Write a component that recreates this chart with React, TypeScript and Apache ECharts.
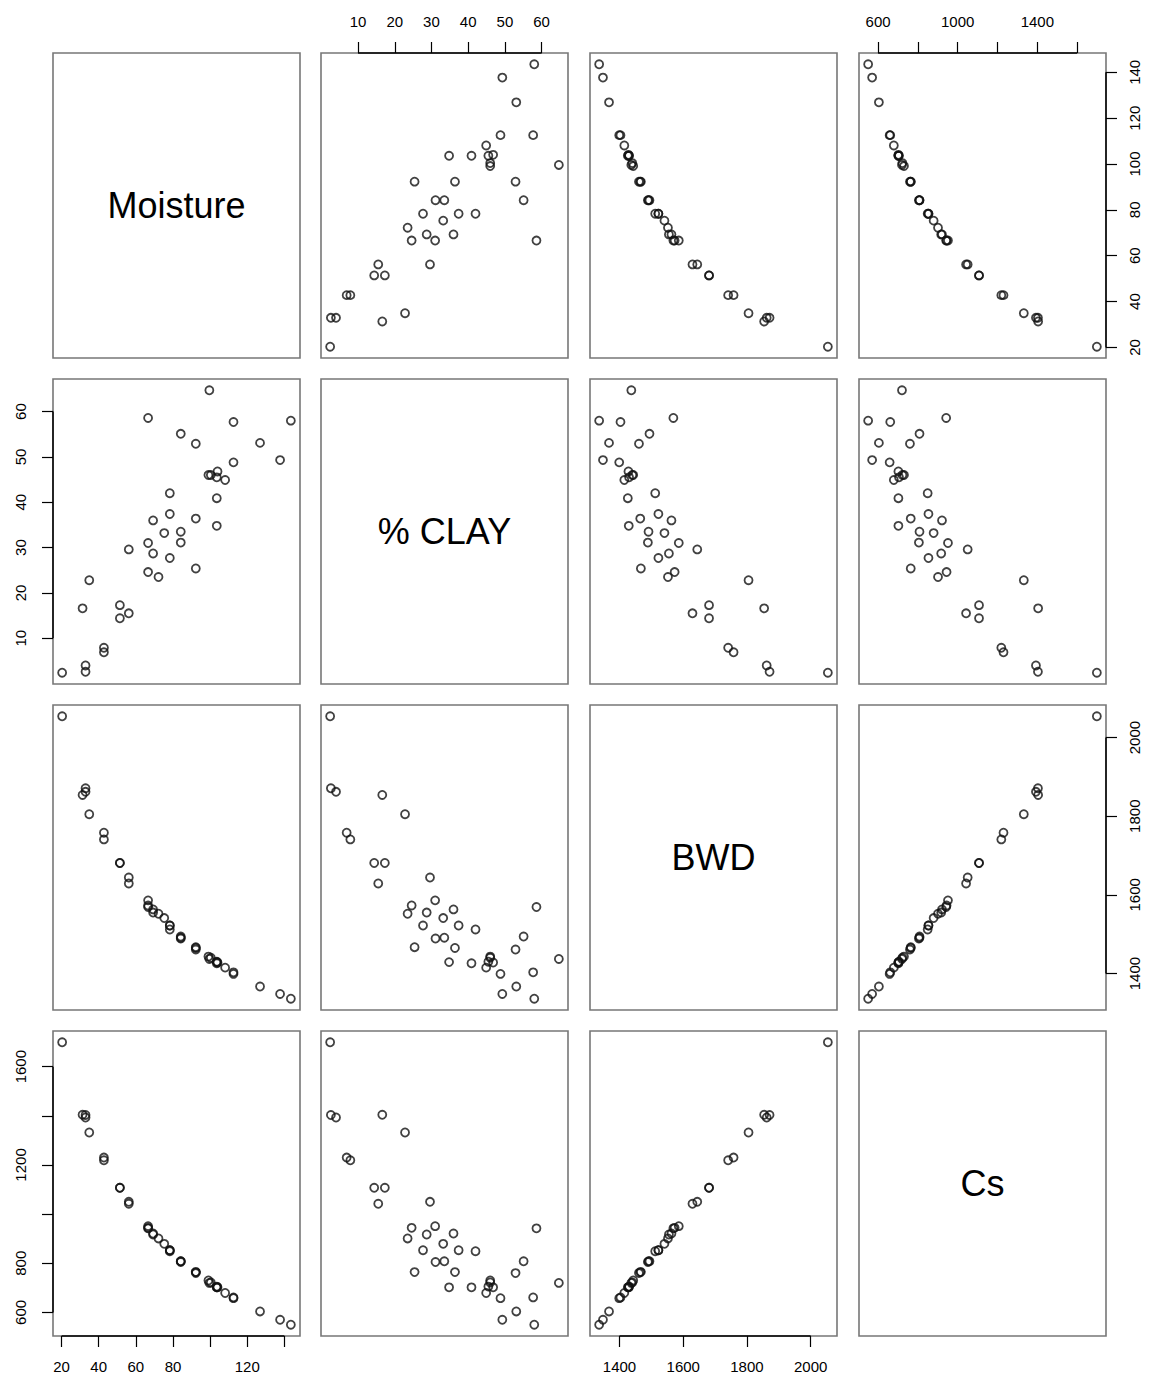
import React, { useEffect, useRef } from "react";
import * as echarts from "echarts";

const varNames = ["Moisture", "% CLAY", "BWD", "Cs"];

const moisture = [20.3, 31.3, 32.9, 32.9, 34.9, 42.8, 42.8, 51.4, 51.4, 56.2, 56.2, 66.6, 66.6, 66.6, 69.3, 69.3, 72.2, 75.3, 78.3, 78.3, 78.3, 84.2, 84.2, 84.2, 92.3, 92.3, 92.3, 99.1, 99.6, 100.4, 103.6, 103.6, 103.6, 104.0, 108.1, 112.6, 112.6, 126.9, 137.7, 143.5];
const clay = [2.4, 16.6, 4.0, 2.6, 22.8, 7.9, 6.9, 17.3, 14.4, 29.6, 15.5, 58.6, 31.0, 24.6, 36.0, 28.7, 23.5, 33.2, 42.0, 37.4, 27.7, 55.1, 33.5, 31.1, 52.9, 36.4, 25.4, 46.0, 64.7, 46.0, 45.5, 40.9, 34.8, 46.8, 44.9, 57.7, 48.8, 53.1, 49.3, 58.0];
const bwd = [2054, 1854, 1862, 1871, 1805, 1741, 1758, 1681, 1681, 1644, 1629, 1569, 1586, 1573, 1563, 1555, 1552, 1541, 1512, 1522, 1522, 1494, 1491, 1489, 1461, 1465, 1467, 1443, 1437, 1440, 1430, 1426, 1429, 1428, 1415, 1403, 1399, 1367, 1348, 1336];
const cs = [1699, 1404, 1393, 1403, 1332, 1219, 1230, 1107, 1107, 1050, 1042, 942, 951, 944, 921, 917, 901, 879, 849, 853, 853, 808, 808, 805, 760, 764, 764, 730, 720, 722, 705, 702, 702, 702, 679, 661, 658, 604, 570, 550];

const moistureTicks = [20, 40, 60, 80, 100, 120, 140];
const moistureBottomLabels = [20, 40, 60, 80, 120];
const moistureRightLabels = [20, 40, 60, 80, 100, 120, 140];
const clayTicks = [10, 20, 30, 40, 50, 60];
const bwdTicks = [1400, 1600, 1800, 2000];
const csTicks = [600, 800, 1000, 1200, 1400, 1600];
const csTopLabels = [600, 1000, 1400];
const csLeftLabels = [600, 800, 1200, 1600];

export default function App() {
  const ref = useRef<HTMLDivElement>(null);
  useEffect(() => {
    const chart = echarts.init(ref.current!, null, { renderer: "svg" });
    const vars = [moisture, clay, bwd, cs];
    const ticks = [moistureTicks, clayTicks, bwdTicks, csTicks];
    const ranges = vars.map((v) => {
      const lo = Math.min(...v);
      const hi = Math.max(...v);
      const p = (hi - lo) * 0.04;
      return [lo - p, hi + p];
    });
    const colLeft = [53, 321, 590, 859];
    const rowTop = [53, 379, 705, 1031];
    const W = 247;
    const H = 305;
    const font = "'Liberation Sans', Arial, Helvetica, sans-serif";
    const outer = [
      { side: "top", row: 0, col: 1, labels: clayTicks },
      { side: "top", row: 0, col: 3, labels: csTopLabels },
      { side: "bottom", row: 3, col: 0, labels: moistureBottomLabels },
      { side: "bottom", row: 3, col: 2, labels: bwdTicks },
      { side: "left", row: 1, col: 0, labels: clayTicks },
      { side: "left", row: 3, col: 0, labels: csLeftLabels },
      { side: "right", row: 0, col: 3, labels: moistureRightLabels },
      { side: "right", row: 2, col: 3, labels: bwdTicks },
    ];
    const margins: Record<string, number> = { top: 24, bottom: 23, left: 25, right: 21 };
    const grids: any[] = [];
    const xAxes: any[] = [];
    const yAxes: any[] = [];
    const series: any[] = [];
    const labelStyle = { fontSize: 15, color: "#000", fontFamily: font };
    for (let r = 0; r < 4; r++) {
      for (let c = 0; c < 4; c++) {
        const k = r * 4 + c;
        grids.push({
          left: colLeft[c],
          top: rowTop[r],
          width: W,
          height: H,
          show: true,
          borderColor: "#777",
          borderWidth: 1.6,
          backgroundColor: "#fff",
        });
        const xs = outer.find((o) => o.row === r && o.col === c && (o.side === "top" || o.side === "bottom"));
        const ys = outer.find((o) => o.row === r && o.col === c && (o.side === "left" || o.side === "right"));
        xAxes.push({
          gridIndex: k,
          type: "value",
          min: ranges[c][0],
          max: ranges[c][1],
          show: !!xs,
          position: xs ? xs.side : "bottom",
          axisLine: { show: false },
          splitLine: { show: false },
          axisTick: { show: true, customValues: ticks[c], length: 11, lineStyle: { color: "#000", width: 1.2 } },
          axisLabel: {
            show: true,
            customValues: xs ? xs.labels : [],
            margin: xs ? margins[xs.side] : 22,
            formatter: (v: number) => String(v),
            ...labelStyle,
          },
        });
        yAxes.push({
          gridIndex: k,
          type: "value",
          min: ranges[r][0],
          max: ranges[r][1],
          show: !!ys,
          position: ys ? ys.side : "left",
          axisLine: { show: false },
          splitLine: { show: false },
          axisTick: { show: true, customValues: ticks[r], length: 11, lineStyle: { color: "#000", width: 1.2 } },
          axisLabel: {
            show: true,
            rotate: 90,
            customValues: ys ? ys.labels : [],
            margin: ys ? margins[ys.side] : 22,
            formatter: (v: number) => String(v),
            ...labelStyle,
          },
        });
        if (r !== c) {
          series.push({
            type: "scatter",
            xAxisIndex: k,
            yAxisIndex: k,
            symbol: "circle",
            symbolSize: 8,
            itemStyle: { color: "rgba(0,0,0,0)", borderColor: "#111", borderWidth: 1.8 },
            data: vars[c].map((x, i) => [x, vars[r][i]]),
          });
        }
      }
    }
    chart.setOption({
      animation: false,
      backgroundColor: "#fff",
      grid: grids,
      xAxis: xAxes,
      yAxis: yAxes,
      series,
    });
    const graphic: any[] = [];
    for (let d = 0; d < 4; d++) {
      graphic.push({
        type: "text",
        x: colLeft[d] + W / 2,
        y: rowTop[d] + H / 2,
        style: {
          text: varNames[d],
          fontSize: 36,
          fontFamily: font,
          fill: "#000",
          textAlign: "center",
          textVerticalAlign: "middle",
        },
      });
    }
    for (const o of outer) {
      const k = o.row * 4 + o.col;
      if (o.side === "top" || o.side === "bottom") {
        const t = ticks[o.col];
        const x1 = chart.convertToPixel({ xAxisIndex: k } as any, t[0]) as number;
        const x2 = chart.convertToPixel({ xAxisIndex: k } as any, t[t.length - 1]) as number;
        const y = o.side === "top" ? rowTop[o.row] : rowTop[o.row] + H;
        graphic.push({ type: "line", shape: { x1, y1: y, x2, y2: y }, style: { stroke: "#000", lineWidth: 1.5 } });
      } else {
        const t = ticks[o.row];
        const y1 = chart.convertToPixel({ yAxisIndex: k } as any, t[0]) as number;
        const y2 = chart.convertToPixel({ yAxisIndex: k } as any, t[t.length - 1]) as number;
        const x = o.side === "left" ? colLeft[o.col] : colLeft[o.col] + W;
        graphic.push({ type: "line", shape: { x1: x, y1, x2: x, y2 }, style: { stroke: "#000", lineWidth: 1.5 } });
      }
    }
    chart.setOption({ graphic });
    return () => chart.dispose();
  }, []);
  return (
    <div
      ref={ref}
      style={{ position: "absolute", left: 0, top: 0, width: 1151, height: 1384, background: "#fff" }}
    />
  );
}
